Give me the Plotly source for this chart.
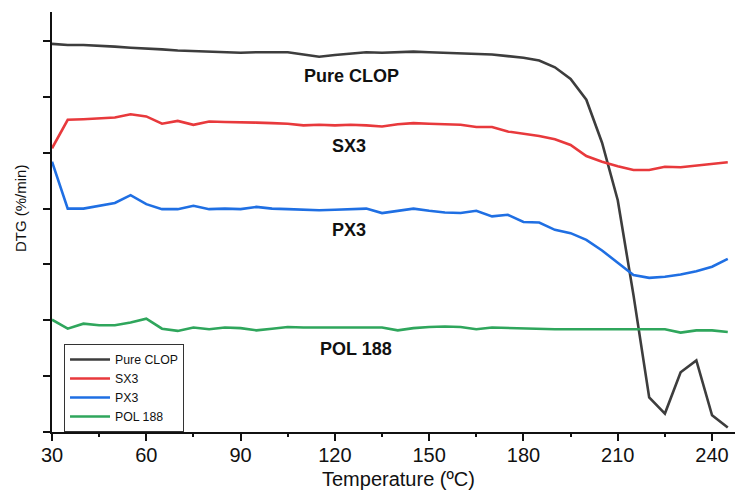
import plotly.graph_objects as go

temperature = [30, 35, 40, 45, 50, 55, 60, 65, 70, 75, 80, 85, 90, 95, 100, 105, 110, 115, 120, 125,
               130, 135, 140, 145, 150, 155, 160, 165, 170, 175, 180, 185, 190, 195, 200, 205, 210,
               215, 220, 225, 230, 235, 240, 245]

pure_clop = [6.95, 6.93, 6.93, 6.92, 6.90, 6.88, 6.87, 6.85, 6.83, 6.82, 6.80, 6.79, 6.79, 6.80, 6.80,
             6.80, 6.76, 6.72, 6.75, 6.78, 6.80, 6.79, 6.80, 6.81, 6.80, 6.79, 6.78, 6.77, 6.76, 6.73,
             6.70, 6.65, 6.53, 6.32, 5.95, 5.18, 4.15, 2.45, 0.62, 0.33, 1.07, 1.28, 0.30, 0.08]

sx3 = [5.08, 5.59, 5.60, 5.61, 5.63, 5.69, 5.65, 5.52, 5.57, 5.50, 5.56, 5.55, 5.55, 5.54, 5.53,
       5.52, 5.49, 5.50, 5.49, 5.50, 5.49, 5.47, 5.51, 5.53, 5.52, 5.51, 5.50, 5.46, 5.46, 5.38,
       5.34, 5.30, 5.24, 5.14, 4.94, 4.84, 4.76, 4.69, 4.69, 4.75, 4.74, 4.77, 4.80, 4.83]

px3 = [4.84, 4.00, 4.00, 4.05, 4.10, 4.24, 4.08, 3.99, 3.99, 4.05, 3.99, 4.00, 3.99, 4.03, 4.00,
       3.99, 3.98, 3.97, 3.98, 3.99, 4.00, 3.92, 3.96, 4.00, 3.96, 3.93, 3.92, 3.96, 3.86, 3.89,
       3.76, 3.75, 3.62, 3.56, 3.44, 3.25, 3.03, 2.81, 2.76, 2.78, 2.82, 2.88, 2.96, 3.10]

pol188 = [2.01, 1.85, 1.94, 1.91, 1.91, 1.96, 2.03, 1.85, 1.81, 1.87, 1.84, 1.87, 1.86, 1.82, 1.85,
          1.88, 1.87, 1.87, 1.87, 1.87, 1.86, 1.87, 1.82, 1.86, 1.88, 1.89, 1.88, 1.84, 1.87, 1.86,
          1.85, 1.85, 1.84, 1.84, 1.84, 1.84, 1.84, 1.84, 1.84, 1.84, 1.78, 1.82, 1.82, 1.79]

series_names = ["Pure CLOP", "SX3", "PX3", "POL 188"]
series_values = [pure_clop, sx3, px3, pol188]
series_colors = ["#3d3d3d", "#e8393c", "#1f6fe3", "#2fa65c"]
# last series goes on the overlaid tick axis (same scale) so that axis is drawn
series_xaxis = ["x", "x", "x", "x2"]

x_ticks = [30, 60, 90, 120, 150, 180, 210, 240]
y_ticks = [0, 1, 2, 3, 4, 5, 6, 7]

# in-plot labels: (text, x, y)
labels = [("Pure CLOP", 125.4, 6.38), ("SX3", 124.5, 5.12), ("PX3", 124.5, 3.61), ("POL 188", 126.7, 1.48)]

FONT = "Liberation Sans, Arial, sans-serif"
X_RANGE = [30, 247.3]

fig = go.Figure()
for name, vals, col, xa in zip(series_names, series_values, series_colors, series_xaxis):
    fig.add_trace(go.Scatter(x=temperature, y=vals, mode="lines", name=name, xaxis=xa, yaxis="y",
                             line=dict(color=col, width=2.6)))

for text, lx, ly in labels:
    fig.add_annotation(x=lx, y=ly, text=f"<b>{text}</b>", showarrow=False,
                       font=dict(family=FONT, size=18, color="#111"),
                       xanchor="center", yanchor="middle")

fig.add_annotation(xref="paper", yref="paper", x=0.5066, y=-0.112, text="Temperature (ºC)",
                   showarrow=False, font=dict(family=FONT, size=20, color="#111"),
                   xanchor="center", yanchor="middle")
fig.add_annotation(xref="paper", yref="paper", x=-0.047, y=0.533, text="DTG (%/min)",
                   showarrow=False, textangle=-90, font=dict(family=FONT, size=15, color="#111"),
                   xanchor="center", yanchor="middle")

fig.update_layout(
    width=738, height=492,
    margin=dict(l=52, r=3, t=12, b=60),
    paper_bgcolor="white", plot_bgcolor="white",
    font=dict(family=FONT, color="#111"),
    showlegend=True,
    legend=dict(x=0.0176, y=0.2095, xanchor="left", yanchor="top",
                bordercolor="#333", borderwidth=1, bgcolor="rgba(255,255,255,0)",
                font=dict(family=FONT, size=12.3, color="#111"),
                tracegroupgap=0, itemwidth=40),
    xaxis=dict(range=X_RANGE, tickvals=x_ticks, ticks="", showline=True, linecolor="#111",
               linewidth=2, showgrid=False, zeroline=False, ticklabelstandoff=4,
               tickfont=dict(family=FONT, size=20, color="#111")),
    xaxis2=dict(range=X_RANGE, overlaying="x", anchor="y", side="bottom", tickvals=x_ticks,
                showticklabels=False, ticks="outside", ticklen=8, tickwidth=2, tickcolor="#111",
                showline=False, showgrid=False, zeroline=False,
                minor=dict(ticks="outside", ticklen=4, tickwidth=1.5, tickcolor="#111", dtick=15,
                           tick0=45, showgrid=False)),
    yaxis=dict(range=[0, 7.52], tickvals=y_ticks, showticklabels=False, ticks="outside",
               ticklen=7, tickwidth=2, tickcolor="#111", showline=True, linecolor="#111",
               linewidth=2, showgrid=False, zeroline=False),
)

fig.write_html("out.html")
